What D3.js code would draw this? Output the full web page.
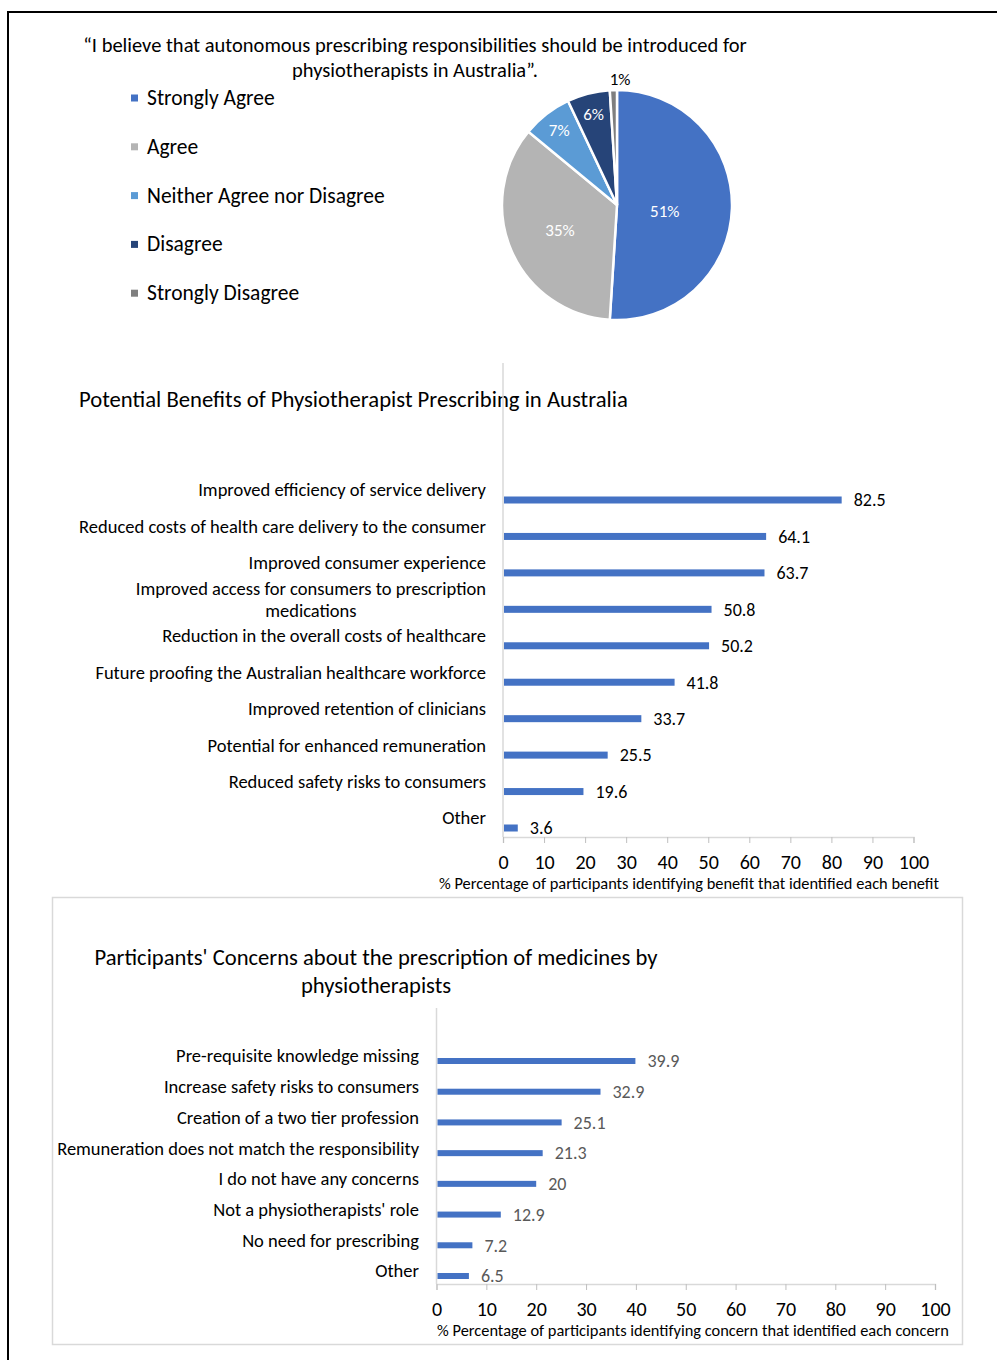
<!DOCTYPE html>
<html lang="en">
<head>
<meta charset="utf-8">
<title>Physiotherapist prescribing survey</title>
<style>
  html, body { margin: 0; padding: 0; background: #fff; }
  svg { display: block; font-family: Carlito, Calibri, Lato, sans-serif; }
</style>
</head>
<body>
<svg></svg>
<script src="https://d3js.org/d3.v7.min.js"></script>
<script>

// ---- data ----
const pieLabels = ["Strongly Agree", "Agree", "Neither Agree nor Disagree", "Disagree", "Strongly Disagree"];
const pieValues = [51, 35, 7, 6, 1];
const pieColors = ["#4472C4", "#B4B4B4", "#5B9BD5", "#264478", "#7F7F7F"];

const benefitLabels = [
  "Improved efficiency of service delivery",
  "Reduced costs of health care delivery to the consumer",
  "Improved consumer experience",
  "Improved access for consumers to prescription\nmedications",
  "Reduction in the overall costs of healthcare",
  "Future proofing the Australian healthcare  workforce",
  "Improved retention of clinicians",
  "Potential for enhanced remuneration",
  "Reduced safety risks to consumers",
  "Other"
];
const benefitValues = [82.5, 64.1, 63.7, 50.8, 50.2, 41.8, 33.7, 25.5, 19.6, 3.6];

const concernLabels = [
  "Pre-requisite knowledge missing",
  "Increase safety risks to consumers",
  "Creation of a two tier profession",
  "Remuneration does not match the responsibility",
  "I do not have any concerns",
  "Not a physiotherapists' role",
  "No need for prescribing",
  "Other"
];
const concernValues = [39.9, 32.9, 25.1, 21.3, 20, 12.9, 7.2, 6.5];

const xTicks = [0, 10, 20, 30, 40, 50, 60, 70, 80, 90, 100];

// ---- svg ----
let w = 997, h = 1360;
let svg = d3.select("svg").attr("width", w).attr("height", h);

// page frame
svg.append("path")
  .attr("d", "M8,1360 V12 H997")
  .attr("fill", "none")
  .attr("stroke", "#000")
  .attr("stroke-width", 2);

// ---- pie chart ----
let title = svg.append("text")
  .attr("text-anchor", "middle")
  .style("font-size", "20.5px")
  .attr("fill", "#000");
title.append("tspan").attr("x", 415).attr("y", 52)
  .text("\u201CI believe that autonomous prescribing responsibilities should be introduced for");
title.append("tspan").attr("x", 415).attr("y", 77)
  .text("physiotherapists in Australia\u201D.");

let legend = svg.append("g").attr("transform", "translate(131,98)");
let lg = legend.selectAll("g").data(pieLabels).enter().append("g")
  .attr("transform", (d, i) => `translate(0,${i * 48.8})`);
lg.append("rect")
  .attr("x", 0).attr("y", -3.5).attr("width", 7).attr("height", 7)
  .attr("fill", (d, i) => pieColors[i]);
lg.append("text")
  .attr("x", 16).attr("y", 7)
  .style("font-size", "21.5px")
  .text(d => d);

let r = 115;
let pieG = svg.append("g").attr("transform", "translate(617,205)");
let pie = d3.pie().sort(null).value(d => d);
let arcs = pie(pieValues);
let arc = d3.arc().innerRadius(0).outerRadius(r);

pieG.selectAll("path").data(arcs).enter().append("path")
  .attr("d", arc)
  .attr("fill", (d, i) => pieColors[i])
  .attr("stroke", "#fff")
  .attr("stroke-width", 2.5);

// big slices: label at the sector's centroid; small ones near the rim; tiny ones outside
pieG.selectAll("text").data(arcs).enter().append("text")
  .attr("transform", d => {
    let a = (d.startAngle + d.endAngle) / 2;
    let half = (d.endAngle - d.startAngle) / 2;
    let rr, dx = 0;
    if (d.data >= 20) rr = 2 * r * Math.sin(half) / (3 * half);
    else if (d.data >= 3) rr = r * 0.82;
    else { rr = r * 1.1; dx = 7; }
    return `translate(${Math.sin(a) * rr + dx},${-Math.cos(a) * rr + (d.data >= 50 ? 5 : 0)})`;
  })
  .attr("text-anchor", "middle")
  .attr("dy", "0.35em")
  .style("font-size", "17px")
  .attr("fill", d => d.data < 3 ? "#000" : "#fff")
  .text(d => d.data + "%");

// ---- bar chart helper ----
function barChart(opt) {
  let x = d3.scaleLinear().domain([0, 100]).range([opt.x0, opt.x1]);
  let y = d3.scalePoint().domain(opt.labels).range([opt.yTop, opt.yBottom]);
  let g = svg.append("g");

  // vertical axis line
  g.append("line")
    .attr("x1", x(0)).attr("x2", x(0))
    .attr("y1", opt.vTop).attr("y2", opt.axisY)
    .attr("stroke", "#D9D9D9").attr("stroke-width", 1.5);

  // bars
  g.selectAll("rect.bar").data(opt.values).enter().append("rect")
    .attr("class", "bar")
    .attr("x", x(0) + 1)
    .attr("y", (d, i) => y(opt.labels[i]) - opt.barH / 2)
    .attr("width", d => x(d) - x(0) - 1)
    .attr("height", opt.barH)
    .attr("fill", "#4472C4");

  // value labels
  g.selectAll("text.val").data(opt.values).enter().append("text")
    .attr("class", "val")
    .attr("x", d => x(d) + 12)
    .attr("y", (d, i) => y(opt.labels[i]))
    .attr("dy", "0.35em")
    .style("font-size", "18px")
    .attr("fill", opt.valColor)
    .text(d => d);

  // category labels (multi-line labels centred on each other)
  opt.labels.forEach((lab, i) => {
    let lines = lab.split("\n");
    let t = g.append("text").style("font-size", "18.5px").attr("fill", "#000");
    let cy = y(lab) - opt.labelShift;
    let lh = 22;
    let spans = lines.map((ln, k) => t.append("tspan")
      .attr("y", cy + (k - (lines.length - 1) / 2) * lh)
      .attr("dy", "0.35em")
      .text(ln));
    if (lines.length == 1) {
      t.attr("text-anchor", "end");
      spans[0].attr("x", opt.labelRight);
    } else {
      let maxW = d3.max(spans, s => s.node().getComputedTextLength());
      t.attr("text-anchor", "middle");
      spans.forEach(s => s.attr("x", opt.labelRight - maxW / 2));
    }
  });

  // x axis
  let axis = g.append("g")
    .attr("transform", `translate(0,${opt.axisY})`)
    .call(d3.axisBottom(x).tickValues(xTicks).tickSize(6).tickPadding(12));
  axis.select(".domain").attr("stroke", "#D9D9D9").attr("stroke-width", 1.5);
  axis.selectAll(".tick line").attr("stroke", "#BFBFBF");
  axis.selectAll(".tick text")
    .style("font-size", "20px")
    .style("font-family", "Carlito, Calibri, Lato, sans-serif")
    .attr("fill", "#000");

  g.append("text")
    .attr("x", opt.axisTitleX).attr("y", opt.axisY + 52)
    .attr("text-anchor", "middle")
    .style("font-size", "16.4px")
    .text(opt.axisTitle);
}

// ---- benefits chart ----
svg.append("text")
  .attr("x", 79).attr("y", 407)
  .style("font-size", "22.7px")
  .text("Potential Benefits of Physiotherapist Prescribing in Australia");

barChart({
  labels: benefitLabels, values: benefitValues,
  x0: 503, x1: 913.5, yTop: 500, yBottom: 828, vTop: 363, axisY: 837,
  barH: 7, labelRight: 486, labelShift: 10, valColor: "#000",
  axisTitleX: 689,
  axisTitle: "% Percentage of participants identifying benefit that identified each benefit"
});

// ---- concerns chart ----
svg.append("rect")
  .attr("x", 52.5).attr("y", 897.5).attr("width", 910).attr("height", 447)
  .attr("fill", "none").attr("stroke", "#D9D9D9").attr("stroke-width", 1.5);

let t2 = svg.append("text").attr("text-anchor", "middle").style("font-size", "22.6px");
t2.append("tspan").attr("x", 376).attr("y", 965)
  .text("Participants' Concerns about the prescription of medicines by");
t2.append("tspan").attr("x", 376).attr("y", 993).text("physiotherapists");

barChart({
  labels: concernLabels, values: concernValues,
  x0: 436.5, x1: 935, yTop: 1061, yBottom: 1276, vTop: 1008, axisY: 1284,
  barH: 6, labelRight: 419, labelShift: 5, valColor: "#595959",
  axisTitleX: 693,
  axisTitle: "% Percentage of participants identifying concern that identified each concern"
});

</script>
</body>
</html>
